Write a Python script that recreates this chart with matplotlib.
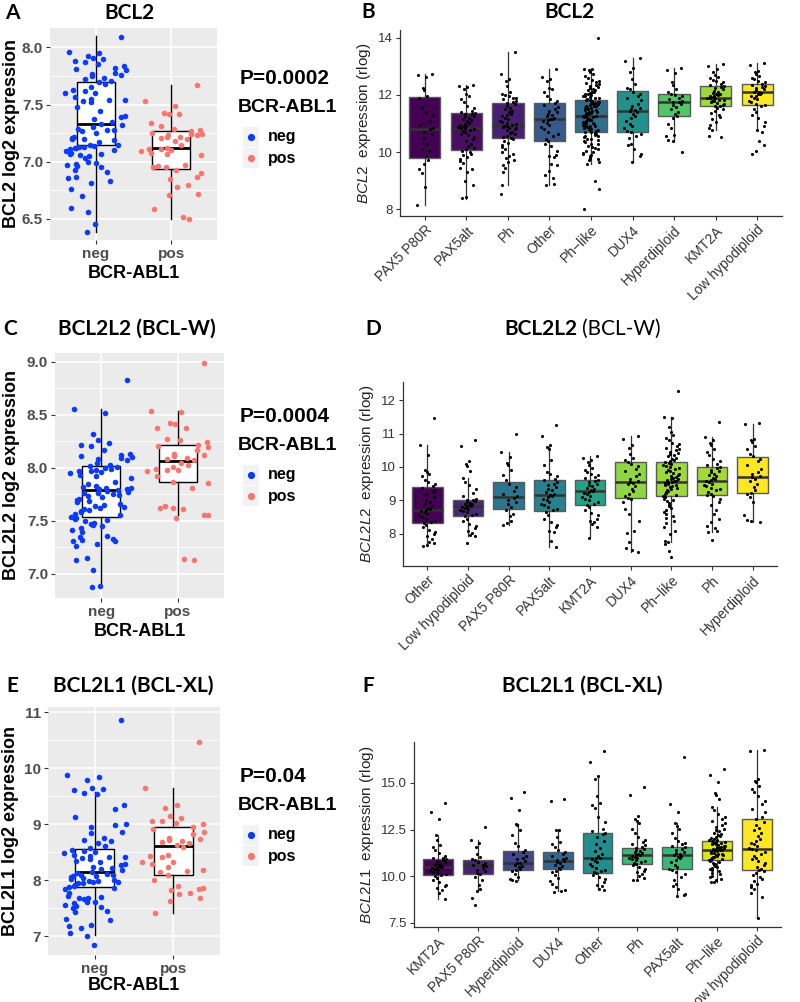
import numpy as np
import matplotlib.pyplot as plt
from matplotlib import colors
from matplotlib.patches import Rectangle
from matplotlib.lines import Line2D

plt.rcParams['font.family'] = ['Liberation Sans', 'DejaVu Sans']
plt.rcParams['mathtext.fontset'] = 'custom'
plt.rcParams['mathtext.rm'] = 'Liberation Sans'
plt.rcParams['mathtext.it'] = 'Liberation Sans:italic'

# ---------------- left panels (BCR-ABL1 neg / pos) ----------------
groups_lr = ['neg', 'pos']

a_neg = [8.09, 7.96, 7.95, 7.92, 7.91, 7.90, 7.88, 7.87, 7.85, 7.84, 7.82, 7.81, 7.80, 7.78,
         7.77, 7.76, 7.75, 7.73, 7.72, 7.71, 7.70, 7.68, 7.65, 7.63, 7.62, 7.60, 7.60, 7.57,
         7.55, 7.54, 7.54, 7.53, 7.52, 7.48, 7.44, 7.40, 7.39, 7.37, 7.35, 7.33, 7.32, 7.30,
         7.29, 7.28, 7.28, 7.27, 7.25, 7.22, 7.21, 7.20, 7.20, 7.19, 7.17, 7.15, 7.15, 7.14,
         7.13, 7.13, 7.12, 7.12, 7.11, 7.10, 7.09, 7.08, 7.07, 7.07, 7.06, 7.05, 7.03, 7.00,
         6.99, 6.98, 6.97, 6.96, 6.95, 6.93, 6.91, 6.87, 6.86, 6.83, 6.81, 6.76, 6.70, 6.60,
         6.56, 6.46, 6.39]
a_pos = [7.67, 7.53, 7.49, 7.43, 7.42, 7.42, 7.34, 7.31, 7.29, 7.28, 7.27, 7.25, 7.24, 7.24,
         7.23, 7.23, 7.22, 7.22, 7.21, 7.20, 7.18, 7.15, 7.12, 7.11, 7.11, 7.10, 7.09, 7.08,
         7.07, 7.06, 6.97, 6.96, 6.95, 6.95, 6.93, 6.90, 6.87, 6.85, 6.80, 6.78, 6.72, 6.71,
         6.59, 6.52, 6.50]
# box stats: q1, median, q3, lower whisker, upper whisker
a_box = [[7.15, 7.33, 7.70, 6.39, 8.10], [6.94, 7.12, 7.27, 6.50, 7.67]]

c_neg = [8.83, 8.56, 8.52, 8.32, 8.26, 8.23, 8.22, 8.21, 8.17, 8.13, 8.12, 8.11, 8.10, 8.09,
         8.08, 8.07, 8.05, 8.03, 8.02, 8.01, 8.00, 7.99, 7.98, 7.97, 7.97, 7.96, 7.95, 7.93,
         7.92, 7.90, 7.87, 7.85, 7.83, 7.82, 7.81, 7.81, 7.80, 7.80, 7.79, 7.78, 7.77, 7.76,
         7.76, 7.75, 7.74, 7.73, 7.72, 7.71, 7.70, 7.69, 7.68, 7.66, 7.65, 7.64, 7.63, 7.62,
         7.61, 7.60, 7.59, 7.58, 7.56, 7.55, 7.54, 7.53, 7.52, 7.51, 7.50, 7.48, 7.47, 7.46,
         7.45, 7.43, 7.41, 7.39, 7.36, 7.35, 7.33, 7.32, 7.31, 7.31, 7.28, 7.26, 7.15, 7.13,
         7.03, 6.88, 6.87]
c_pos = [8.99, 8.54, 8.53, 8.42, 8.41, 8.38, 8.38, 8.27, 8.26, 8.24, 8.22, 8.21, 8.20, 8.17,
         8.13, 8.12, 8.11, 8.09, 8.08, 8.07, 8.05, 8.03, 8.01, 7.99, 7.98, 7.98, 7.97, 7.92,
         7.87, 7.86, 7.81, 7.64, 7.62, 7.62, 7.61, 7.55, 7.55, 7.53, 7.13, 7.14]
c_box = [[7.535, 7.794, 8.014, 6.874, 8.556], [7.866, 8.068, 8.22, 7.551, 8.54]]

e_neg = [10.85, 9.87, 9.84, 9.79, 9.65, 9.63, 9.61, 9.55, 9.54, 9.34, 9.27, 9.13, 9.00, 8.99,
         8.95, 8.87, 8.85, 8.76, 8.72, 8.70, 8.67, 8.62, 8.58, 8.55, 8.52, 8.50, 8.48, 8.45,
         8.44, 8.42, 8.41, 8.40, 8.38, 8.35, 8.32, 8.29, 8.27, 8.24, 8.22, 8.20, 8.18, 8.15,
         8.14, 8.12, 8.10, 8.09, 8.08, 8.07, 8.06, 8.05, 8.03, 8.01, 7.99, 7.98, 7.97, 7.97,
         7.96, 7.95, 7.92, 7.90, 7.89, 7.87, 7.85, 7.78, 7.72, 7.70, 7.69, 7.68, 7.66, 7.62,
         7.61, 7.59, 7.56, 7.55, 7.52, 7.50, 7.46, 7.44, 7.31, 7.30, 7.20, 7.18, 7.16, 7.07,
         7.01, 6.85]
e_pos = [10.46, 9.65, 9.34, 9.29, 9.15, 9.12, 9.06, 9.05, 9.03, 9.01, 8.95, 8.91, 8.87, 8.82,
         8.76, 8.74, 8.72, 8.70, 8.68, 8.66, 8.63, 8.60, 8.46, 8.43, 8.41, 8.33, 8.32, 8.30,
         8.23, 8.19, 8.17, 8.15, 8.10, 8.00, 7.90, 7.86, 7.84, 7.82, 7.78, 7.75, 7.68, 7.64,
         7.41]
e_box = [[7.89, 8.147, 8.563, 7.02, 9.58], [8.10, 8.605, 8.96, 7.416, 9.645]]

# ---------------- right panels (subtypes) ----------------
b_cats = ['PAX5 P80R', 'PAX5alt', 'Ph', 'Other', 'Ph\u2212like', 'DUX4', 'Hyperdiploid',
          'KMT2A', 'Low hypodiploid']
b_q1 = [9.78, 10.07, 10.50, 10.39, 10.71, 10.69, 11.26, 11.63, 11.65]
b_med = [10.80, 10.85, 10.91, 11.16, 11.26, 11.45, 11.74, 11.90, 12.09]
b_q3 = [11.94, 11.36, 11.73, 11.73, 11.82, 12.15, 12.05, 12.33, 12.37]
b_lo = [8.15, 8.38, 8.85, 8.85, 9.60, 9.64, 10.40, 10.77, 10.77]
b_hi = [12.73, 12.35, 13.51, 12.89, 12.89, 13.28, 12.93, 13.08, 13.13]
b_pts = [
    [12.73, 12.70, 12.62, 12.25, 12.18, 11.95, 11.90, 11.55, 11.42, 11.30, 11.10, 10.95, 10.85,
     10.80, 10.72, 10.62, 10.48, 10.30, 10.12, 10.05, 9.85, 9.72, 9.60, 9.42, 9.28, 8.80, 8.15],
    [12.35, 12.30, 12.27, 12.22, 12.05, 11.95, 11.85, 11.75, 11.62, 11.55, 11.45, 11.40, 11.38,
     11.35, 11.32, 11.28, 11.25, 11.20, 11.15, 11.12, 11.08, 11.02, 10.98, 10.95, 10.92, 10.90,
     10.88, 10.86, 10.84, 10.82, 10.78, 10.75, 10.70, 10.65, 10.60, 10.52, 10.45, 10.38, 10.30,
     10.22, 10.15, 10.10, 10.05, 10.00, 9.95, 9.90, 9.82, 9.75, 9.68, 9.62, 9.45, 9.40, 9.30,
     9.00, 8.85, 8.42, 8.40],
    [13.51, 12.72, 12.55, 12.48, 12.30, 12.10, 12.05, 12.00, 11.95, 11.90, 11.88, 11.85, 11.80,
     11.76, 11.72, 11.68, 11.62, 11.55, 11.50, 11.45, 11.40, 11.35, 11.30, 11.25, 11.20, 11.15,
     11.10, 11.06, 11.02, 10.98, 10.95, 10.93, 10.91, 10.89, 10.86, 10.83, 10.80, 10.76, 10.72,
     10.68, 10.62, 10.58, 10.54, 10.50, 10.46, 10.40, 10.32, 10.25, 10.18, 10.10, 10.02, 9.95,
     9.88, 9.80, 9.72, 9.65, 9.55, 9.45, 9.30, 8.85, 8.55],
    [12.89, 12.62, 12.55, 12.48, 12.25, 12.20, 12.10, 11.95, 11.85, 11.78, 11.72, 11.65, 11.58,
     11.52, 11.45, 11.40, 11.35, 11.30, 11.25, 11.20, 11.17, 11.15, 11.12, 11.08, 11.02, 10.95,
     10.88, 10.80, 10.72, 10.65, 10.55, 10.45, 10.38, 10.30, 10.20, 10.05, 9.90, 9.85, 9.82,
     9.60, 9.55, 9.35, 9.20, 9.10, 8.90, 8.85],
    [14.00, 12.92, 12.90, 12.86, 12.81, 12.72, 12.66, 12.61, 12.54, 12.50, 12.47, 12.41, 12.38,
     12.36, 12.31, 12.27, 12.25, 12.21, 12.18, 12.16, 12.12, 12.09, 12.08, 12.04, 12.02, 12.00,
     11.97, 11.95, 11.92, 11.90, 11.89, 11.86, 11.83, 11.82, 11.80, 11.77, 11.76, 11.73, 11.72,
     11.70, 11.67, 11.66, 11.63, 11.62, 11.60, 11.57, 11.56, 11.53, 11.52, 11.50, 11.47, 11.46,
     11.43, 11.42, 11.40, 11.37, 11.36, 11.33, 11.32, 11.30, 11.28, 11.27, 11.26, 11.25, 11.23,
     11.22, 11.20, 11.17, 11.16, 11.13, 11.12, 11.10, 11.07, 11.06, 11.03, 11.02, 11.00, 10.97,
     10.96, 10.93, 10.92, 10.90, 10.87, 10.86, 10.83, 10.82, 10.80, 10.77, 10.76, 10.73, 10.72,
     10.70, 10.67, 10.65, 10.61, 10.58, 10.56, 10.52, 10.47, 10.45, 10.41, 10.38, 10.34, 10.30,
     10.27, 10.21, 10.18, 10.13, 10.10, 10.05, 10.02, 9.97, 9.95, 9.89, 9.85, 9.79, 9.75, 9.71,
     9.65, 9.60, 9.00, 8.73, 8.03],
    [13.28, 13.20, 12.95, 12.80, 12.55, 12.40, 12.25, 12.20, 12.12, 12.05, 11.95, 11.90, 11.82,
     11.70, 11.62, 11.55, 11.50, 11.46, 11.44, 11.40, 11.35, 11.28, 11.20, 11.10, 11.00, 10.92,
     10.85, 10.75, 10.70, 10.65, 10.55, 10.48, 10.30, 10.25, 10.10, 9.95, 9.85, 9.64],
    [12.93, 12.88, 12.75, 12.45, 12.35, 12.20, 12.10, 12.05, 12.00, 11.95, 11.90, 11.85, 11.80,
     11.76, 11.74, 11.70, 11.65, 11.58, 11.50, 11.42, 11.35, 11.28, 11.20, 11.00, 10.85, 10.60,
     10.55, 10.42, 10.40, 10.02],
    [13.08, 13.02, 12.90, 12.80, 12.70, 12.62, 12.58, 12.52, 12.48, 12.45, 12.40, 12.36, 12.32,
     12.28, 12.25, 12.20, 12.15, 12.12, 12.08, 12.05, 12.02, 12.00, 11.98, 11.95, 11.93, 11.91,
     11.90, 11.88, 11.86, 11.84, 11.82, 11.80, 11.78, 11.75, 11.72, 11.70, 11.66, 11.63, 11.60,
     11.55, 11.50, 11.45, 11.38, 11.30, 11.22, 11.15, 11.05, 10.95, 10.85, 10.77, 10.55, 10.54],
    [13.13, 13.05, 12.85, 12.80, 12.72, 12.65, 12.60, 12.55, 12.50, 12.45, 12.40, 12.36, 12.32,
     12.28, 12.25, 12.20, 12.16, 12.12, 12.10, 12.08, 12.05, 12.02, 11.98, 11.95, 11.90, 11.85,
     11.80, 11.75, 11.70, 11.66, 11.60, 11.50, 11.40, 11.30, 11.20, 11.05, 10.90, 10.77, 10.70,
     10.40, 10.25, 10.05, 9.93],
]

d_cats = ['Other', 'Low hypodiploid', 'PAX5 P80R', 'PAX5alt', 'KMT2A', 'DUX4', 'Ph\u2212like',
          'Ph', 'Hyperdiploid']
d_q1 = [8.32, 8.54, 8.74, 8.69, 8.87, 9.07, 9.12, 9.15, 9.21]
d_med = [8.71, 8.82, 9.10, 9.15, 9.29, 9.54, 9.56, 9.57, 9.71]
d_q3 = [9.39, 9.02, 9.54, 9.60, 9.62, 10.14, 10.14, 9.99, 10.29]
d_lo = [7.64, 7.95, 8.27, 7.62, 7.87, 7.47, 7.75, 8.07, 8.35]
d_hi = [10.66, 9.67, 10.44, 10.61, 10.33, 10.93, 11.49, 10.89, 11.29]
d_pts = [
    [11.45, 10.66, 10.35, 9.90, 9.85, 9.80, 9.72, 9.62, 9.55, 9.48, 9.42, 9.38, 9.32, 9.25, 9.18,
     9.10, 9.02, 8.95, 8.88, 8.82, 8.78, 8.74, 8.71, 8.68, 8.64, 8.60, 8.55, 8.50, 8.45, 8.40,
     8.36, 8.32, 8.28, 8.20, 8.12, 8.05, 8.00, 7.95, 7.85, 7.75, 7.72, 7.68, 7.64],
    [10.80, 10.62, 10.18, 10.08, 10.02, 9.88, 9.67, 9.55, 9.45, 9.35, 9.22, 9.12, 9.05, 9.02,
     9.00, 8.98, 8.95, 8.92, 8.90, 8.88, 8.86, 8.84, 8.82, 8.80, 8.78, 8.75, 8.72, 8.68, 8.64,
     8.60, 8.56, 8.52, 8.45, 8.38, 8.30, 8.25, 8.18, 8.10, 8.02, 7.98, 7.95, 7.73],
    [10.99, 10.44, 10.30, 10.12, 10.05, 9.90, 9.75, 9.60, 9.50, 9.40, 9.28, 9.18, 9.12, 9.08,
     9.02, 8.95, 8.88, 8.80, 8.72, 8.60, 8.52, 8.40, 8.32, 8.27],
    [11.25, 10.92, 10.65, 10.61, 10.55, 10.20, 10.05, 9.85, 9.80, 9.72, 9.65, 9.60, 9.55, 9.50,
     9.45, 9.40, 9.35, 9.30, 9.25, 9.20, 9.16, 9.14, 9.10, 9.05, 9.00, 8.95, 8.90, 8.85, 8.80,
     8.75, 8.70, 8.65, 8.55, 8.45, 8.35, 8.28, 8.20, 8.10, 8.05, 7.80, 7.62],
    [10.33, 10.28, 10.22, 10.15, 10.05, 9.98, 9.92, 9.85, 9.80, 9.75, 9.70, 9.66, 9.62, 9.58,
     9.55, 9.50, 9.46, 9.42, 9.38, 9.34, 9.30, 9.28, 9.25, 9.22, 9.18, 9.14, 9.10, 9.05, 9.00,
     8.95, 8.90, 8.86, 8.80, 8.72, 8.62, 8.55, 8.45, 8.40, 8.35, 8.30, 8.20, 7.87],
    [10.93, 10.85, 10.65, 10.58, 10.40, 10.28, 10.20, 10.15, 10.10, 10.02, 9.95, 9.88, 9.80,
     9.72, 9.65, 9.58, 9.55, 9.52, 9.48, 9.42, 9.35, 9.28, 9.20, 9.12, 9.08, 9.05, 8.95, 8.75,
     8.60, 8.38, 8.08, 8.02, 7.75, 7.57, 7.52, 7.47],
    [12.28, 11.49, 11.45, 11.18, 11.05, 10.95, 10.88, 10.80, 10.72, 10.68, 10.62, 10.58, 10.55,
     10.50, 10.46, 10.42, 10.38, 10.35, 10.32, 10.28, 10.25, 10.22, 10.18, 10.15, 10.12, 10.10,
     10.07, 10.04, 10.01, 9.98, 9.95, 9.92, 9.89, 9.86, 9.83, 9.80, 9.77, 9.74, 9.71, 9.68,
     9.65, 9.63, 9.61, 9.59, 9.57, 9.56, 9.55, 9.53, 9.51, 9.49, 9.47, 9.45, 9.42, 9.39, 9.36,
     9.33, 9.30, 9.27, 9.24, 9.21, 9.18, 9.15, 9.12, 9.09, 9.05, 9.01, 8.97, 8.92, 8.87, 8.82,
     8.76, 8.70, 8.64, 8.58, 8.52, 8.46, 8.40, 8.32, 8.22, 8.10, 8.00, 7.80, 7.75, 7.70, 7.50,
     7.30],
    [11.35, 10.89, 10.80, 10.72, 10.65, 10.55, 10.45, 10.35, 10.25, 10.18, 10.10, 10.05, 10.00,
     9.96, 9.92, 9.88, 9.84, 9.80, 9.76, 9.72, 9.68, 9.64, 9.60, 9.57, 9.54, 9.50, 9.46, 9.42,
     9.38, 9.34, 9.30, 9.25, 9.20, 9.16, 9.12, 9.05, 8.95, 8.85, 8.72, 8.60, 8.45, 8.35, 8.25,
     8.18, 8.10, 8.07, 7.82],
    [11.32, 11.29, 10.85, 10.82, 10.75, 10.62, 10.55, 10.40, 10.32, 10.25, 10.18, 10.05, 9.95,
     9.85, 9.78, 9.72, 9.70, 9.65, 9.58, 9.50, 9.40, 9.30, 9.22, 9.18, 9.10, 8.95, 8.55, 8.42,
     8.38, 8.36],
]

f_cats = ['KMT2A', 'PAX5 P80R', 'Hyperdiploid', 'DUX4', 'Other', 'Ph', 'PAX5alt', 'Ph\u2212like',
          'Low hypodiploid']
f_q1 = [10.04, 10.13, 10.31, 10.36, 10.19, 10.67, 10.36, 10.88, 10.35]
f_med = [10.49, 10.58, 10.70, 10.81, 10.97, 11.15, 11.15, 11.42, 11.47]
f_q3 = [10.94, 10.88, 11.33, 11.28, 12.32, 11.53, 11.56, 11.87, 13.08]
f_lo = [8.79, 9.20, 9.77, 9.20, 9.33, 9.77, 8.91, 9.68, 7.77]
f_hi = [12.19, 11.92, 12.78, 12.49, 15.36, 12.85, 12.85, 13.71, 16.75]
f_pts = [
    [13.95, 13.45, 13.05, 12.19, 11.95, 11.65, 11.55, 11.40, 11.25, 11.10, 11.00, 10.95, 10.90,
     10.85, 10.80, 10.75, 10.70, 10.65, 10.60, 10.55, 10.52, 10.49, 10.46, 10.42, 10.38, 10.33,
     10.28, 10.22, 10.15, 10.10, 10.05, 10.00, 9.90, 9.80, 9.70, 9.55, 9.45, 9.35, 9.25, 9.10,
     8.79],
    [12.65, 11.92, 11.80, 11.55, 11.20, 11.05, 10.90, 10.85, 10.78, 10.70, 10.62, 10.58, 10.52,
     10.45, 10.35, 10.25, 10.18, 10.10, 9.95, 9.80, 9.50, 9.30, 9.20, 8.80, 8.45],
    [14.50, 14.18, 13.55, 12.78, 12.72, 12.45, 12.20, 11.80, 11.60, 11.40, 11.32, 11.20, 11.10,
     11.00, 10.90, 10.80, 10.72, 10.68, 10.62, 10.55, 10.48, 10.40, 10.32, 10.25, 10.10, 9.95,
     9.85, 9.77, 9.72],
    [14.12, 14.02, 12.49, 12.45, 12.10, 11.85, 11.70, 11.55, 11.40, 11.28, 11.20, 11.10, 11.00,
     10.92, 10.85, 10.81, 10.76, 10.70, 10.62, 10.55, 10.45, 10.38, 10.30, 10.20, 10.05, 9.90,
     9.75, 9.60, 9.40, 9.25, 9.20, 9.15],
    [16.70, 16.10, 15.36, 15.20, 14.30, 13.90, 13.80, 13.65, 13.20, 12.90, 12.55, 12.40, 12.30,
     12.25, 12.10, 11.90, 11.70, 11.50, 11.35, 11.20, 11.10, 11.00, 10.97, 10.90, 10.82, 10.75,
     10.65, 10.55, 10.45, 10.35, 10.28, 10.20, 10.15, 10.05, 9.95, 9.85, 9.70, 9.55, 9.45, 9.33,
     9.25],
    [14.80, 14.35, 13.25, 13.05, 12.95, 12.85, 12.55, 12.30, 12.10, 11.95, 11.85, 11.75, 11.65,
     11.58, 11.52, 11.46, 11.40, 11.35, 11.30, 11.25, 11.20, 11.16, 11.12, 11.08, 11.04, 11.00,
     10.95, 10.90, 10.85, 10.80, 10.75, 10.70, 10.65, 10.58, 10.50, 10.40, 10.30, 10.20, 10.10,
     10.00, 9.90, 9.80, 9.77],
    [16.40, 13.85, 13.45, 12.85, 12.70, 12.55, 12.30, 12.05, 11.90, 11.80, 11.70, 11.60, 11.55,
     11.48, 11.40, 11.32, 11.25, 11.18, 11.15, 11.10, 11.02, 10.95, 10.85, 10.75, 10.62, 10.50,
     10.40, 10.32, 10.20, 10.10, 9.95, 9.80, 9.60, 9.45, 9.30, 9.05, 9.00, 8.91],
    [15.75, 15.45, 15.05, 14.45, 14.35, 14.15, 13.71, 13.55, 13.35, 13.20, 13.05, 12.95, 12.85,
     12.75, 12.65, 12.55, 12.48, 12.40, 12.33, 12.27, 12.21, 12.15, 12.10, 12.05, 12.00, 11.96,
     11.92, 11.88, 11.85, 11.82, 11.79, 11.76, 11.73, 11.70, 11.67, 11.64, 11.61, 11.58, 11.55,
     11.52, 11.49, 11.46, 11.44, 11.42, 11.40, 11.38, 11.35, 11.32, 11.29, 11.26, 11.23, 11.20,
     11.17, 11.14, 11.11, 11.08, 11.05, 11.02, 10.99, 10.96, 10.93, 10.90, 10.87, 10.84, 10.80,
     10.76, 10.72, 10.67, 10.62, 10.56, 10.50, 10.44, 10.38, 10.32, 10.25, 10.18, 10.10, 10.02,
     9.94, 9.86, 9.78, 9.70, 9.68],
    [16.75, 16.70, 15.20, 15.10, 15.05, 14.85, 14.70, 14.50, 14.30, 14.05, 13.85, 13.60, 13.45,
     13.20, 13.05, 12.90, 12.75, 12.60, 12.45, 12.30, 12.15, 12.00, 11.90, 11.80, 11.70, 11.60,
     11.50, 11.47, 11.40, 11.30, 11.20, 11.10, 11.00, 10.90, 10.80, 10.70, 10.60, 10.50, 10.40,
     10.35, 10.25, 10.15, 10.05, 9.95, 9.85, 9.75, 9.60, 9.50, 9.40, 9.30, 9.10, 8.90, 7.77],
]

W, H = 800, 1002
fig = plt.figure(figsize=(W / 100, H / 100), dpi=100)
CAL = ['Lato', 'DejaVu Sans']
NEG_COL, POS_COL = '#0B3BFF', '#F8766D'


def rect(x0, y0, x1, y1):
    return [x0 / W, 1 - y1 / H, (x1 - x0) / W, (y1 - y0) / H]


def jitter(n, width):
    # fixed, scrambled horizontal offsets standing in for ggplot's jitter
    u = (np.sin(np.arange(1, n + 1) * 12.9898) * 43758.5453) % 1.0
    return (u - 0.5) * 2 * width


def ftext(x, y, s, **kw):
    fig.text(x / W, 1 - y / H, s, **kw)


def left_panel(box_px, neg, pos, box, ylim, major, minor, ylabels, ylab, xlab_y, ylab_x):
    ax = fig.add_axes(rect(*box_px))
    ax.set_facecolor('#EBEBEB')
    for s in ax.spines.values():
        s.set_visible(False)
    stats = [dict(q1=b[0], med=b[1], q3=b[2], whislo=b[3], whishi=b[4]) for b in box]
    ax.bxp(stats, positions=[1, 2], widths=0.5, showfliers=False, showcaps=False,
           patch_artist=True, manage_ticks=False,
           boxprops=dict(facecolor='white', edgecolor='black', lw=1.0),
           medianprops=dict(color='black', lw=2.0),
           whiskerprops=dict(color='black', lw=1.0))
    ax.scatter(1 + jitter(len(neg), 0.4), neg, s=16, color=NEG_COL, lw=0, zorder=3)
    ax.scatter(2 + jitter(len(pos), 0.4), pos, s=16, color=POS_COL, lw=0, zorder=3)
    ax.set_xlim(0.4, 2.6)
    ax.set_ylim(*ylim)
    ax.set_yticks(major)
    ax.set_yticks(minor, minor=True)
    ax.set_yticklabels(ylabels, fontweight='bold')
    ax.set_xticks([1, 2])
    ax.set_xticklabels(groups_lr, fontweight='bold')
    ax.grid(True, which='major', color='white', lw=1.2)
    ax.grid(True, which='minor', axis='y', color='white', lw=0.6)
    ax.set_axisbelow(True)
    ax.tick_params(which='major', length=3, width=0.8, color='#333333',
                   labelcolor='#4D4D4D', labelsize=11, pad=2)
    ax.tick_params(which='minor', length=0)
    ftext(ylab_x, (box_px[1] + box_px[3]) / 2, ylab, rotation=90, ha='center', va='center',
          fontsize=13, fontweight='bold')
    ftext((box_px[0] + box_px[2]) / 2, xlab_y, 'BCR-ABL1', ha='center', va='center',
          fontsize=13, fontweight='bold')
    return ax


def legend(ptxt, y_p):
    ftext(240, y_p, ptxt, ha='left', va='center', fontsize=15, fontweight='bold')
    ftext(238, y_p + 29, 'BCR-ABL1', ha='left', va='center', fontsize=14, fontweight='bold')
    for k, (lab, col) in enumerate(zip(groups_lr, [NEG_COL, POS_COL])):
        yc = y_p + 59 + 21 * k
        fig.add_artist(Rectangle((243 / W, 1 - (yc + 10) / H), 16 / W, 20 / H,
                                 transform=fig.transFigure, facecolor='#F2F2F2', lw=0))
        fig.add_artist(Line2D([251 / W], [1 - yc / H], marker='o', ms=4.2, color=col, lw=0,
                              transform=fig.transFigure))
        ftext(268, yc, lab, ha='left', va='center', fontsize=11.5, fontweight='bold')


def right_panel(box_px, cats, pts, q1, med, q3, lo, hi, ylim, yticks, ylabels, gene):
    ax = fig.add_axes(rect(*box_px))
    n = len(cats)
    xs = np.arange(1, n + 1)
    norm = colors.Normalize(min(med), max(med))
    fills = plt.get_cmap('viridis')(norm(np.array(med)))
    stats = [dict(q1=q1[i], med=med[i], q3=q3[i], whislo=lo[i], whishi=hi[i]) for i in range(n)]
    bp = ax.bxp(stats, positions=xs, widths=0.75, showfliers=False, showcaps=False,
                patch_artist=True, manage_ticks=False,
                boxprops=dict(edgecolor='#595959', lw=1.0),
                medianprops=dict(color='#333333', lw=1.8),
                whiskerprops=dict(color='#333333', lw=0.9))
    for patch, c in zip(bp['boxes'], fills):
        patch.set_facecolor(c)
    for i, vals in enumerate(pts):
        ax.scatter(xs[i] + jitter(len(vals), 0.2), vals, s=5, color='black', lw=0, zorder=4)
    ax.set_xlim(0.4, n + 0.6)
    ax.set_ylim(*ylim)
    ax.set_yticks(yticks)
    ax.set_yticklabels(ylabels)
    ax.set_xticks(xs)
    ax.set_xticklabels(cats, rotation=45, ha='right', va='top', rotation_mode='anchor')
    for s in ['top', 'right']:
        ax.spines[s].set_visible(False)
    for s in ['left', 'bottom']:
        ax.spines[s].set_color('#333333')
        ax.spines[s].set_linewidth(0.9)
    ax.tick_params(length=3, width=0.8, color='#333333', labelcolor='#333333',
                   labelsize=9.5, pad=2)
    ax.tick_params(axis='x', labelsize=10)
    ax.set_ylabel(r'$\it{' + gene + r'}$  expression (rlog)', fontsize=11, color='#222222',
                  labelpad=4)
    return ax


# panel A / B
left_panel((50, 28, 217, 240), a_neg, a_pos, a_box, (6.316, 8.169),
           [6.5, 7.0, 7.5, 8.0], [6.75, 7.25, 7.75], ['6.5', '7.0', '7.5', '8.0'],
           'BCL2 log2 expression', 273, 12)
legend('P=0.0002', 78)
right_panel((400, 30, 782, 216), b_cats, b_pts, b_q1, b_med, b_q3, b_lo, b_hi,
            (7.77, 14.27), [8, 10, 12, 14], ['8', '10', '12', '14'], 'BCL2')

# panel C / D
left_panel((55, 353, 224, 598), c_neg, c_pos, c_box, (6.77, 9.085),
           [7.0, 7.5, 8.0, 8.5, 9.0], [7.25, 7.75, 8.25, 8.75],
           ['7.0', '7.5', '8.0', '8.5', '9.0'], 'BCL2L2 log2 expression', 632, 12)
legend('P=0.0004', 416)
right_panel((403, 382, 777, 566), d_cats, d_pts, d_q1, d_med, d_q3, d_lo, d_hi,
            (7.04, 12.54), [8, 9, 10, 11, 12], ['8', '9', '10', '11', '12'], 'BCL2L2')

# panel E / F
left_panel((48, 707, 220, 955), e_neg, e_pos, e_box, (6.67, 11.09),
           [7, 8, 9, 10, 11], [7.5, 8.5, 9.5, 10.5], ['7', '8', '9', '10', '11'],
           'BCL2L1 log2 expression', 986, 11)
legend('P=0.04', 776)
right_panel((414, 742, 781, 927), f_cats, f_pts, f_q1, f_med, f_q3, f_lo, f_hi,
            (7.27, 17.2), [7.5, 10.0, 12.5, 15.0], ['7.5', '10.0', '12.5', '15.0'], 'BCL2L1')

# titles and panel letters
for letter, lx, ly in [('A', 12, 13), ('B', 368, 12), ('C', 10, 329), ('D', 373, 329),
                       ('E', 12, 686), ('F', 368, 686)]:
    ftext(lx, ly, letter, ha='center', va='center', fontsize=15, fontweight='bold', family=CAL)
ftext(130, 13, 'BCL2', ha='center', va='center', fontsize=15, fontweight='bold', family=CAL)
ftext(570, 12, 'BCL2', ha='center', va='center', fontsize=15, fontweight='bold', family=CAL)
ftext(137, 329, 'BCL2L2 (BCL-W)', ha='center', va='center', fontsize=15, fontweight='bold',
      family=CAL)
ftext(577, 329, 'BCL2L2', ha='right', va='center', fontsize=15, fontweight='bold', family=CAL)
ftext(582, 329, '(BCL-W)', ha='left', va='center', fontsize=15, family=CAL)
ftext(133, 686, 'BCL2L1 (BCL-XL)', ha='center', va='center', fontsize=15, fontweight='bold',
      family=CAL)
ftext(582, 686, 'BCL2L1 (BCL-XL)', ha='center', va='center', fontsize=15, fontweight='bold',
      family=CAL)

fig.savefig('out.png', dpi=100)
